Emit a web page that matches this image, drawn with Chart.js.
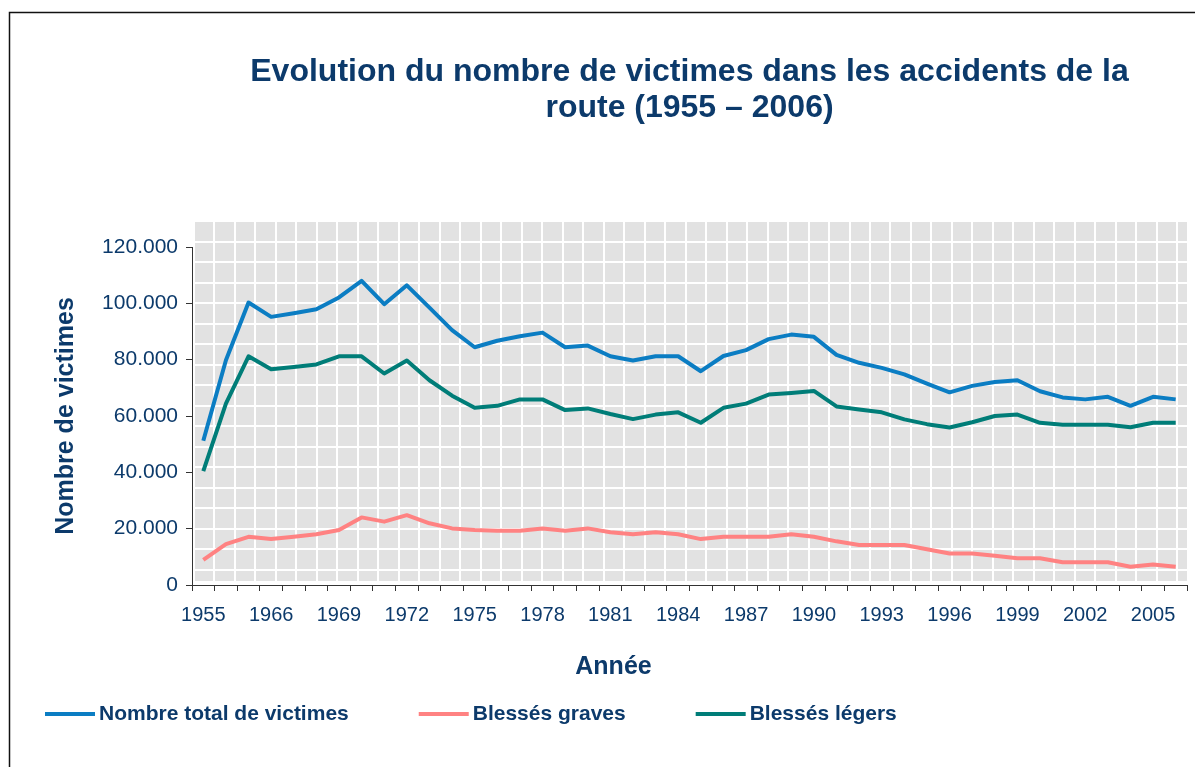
<!DOCTYPE html>
<html>
<head>
<meta charset="utf-8">
<script src="https://cdn.jsdelivr.net/npm/chart.js@4.4.1/dist/chart.umd.min.js"></script>
<style>
  html, body { margin: 0; padding: 0; background: #ffffff; }
  #c { display: block; }
</style>
</head>
<body>
<canvas id="c" width="1195" height="767"></canvas>
<script>
// ---- Data ----
const categories = ['1955','1960','1965','1966','1967','1968','1969','1970','1971','1972',
  '1973','1974','1975','1976','1977','1978','1979','1980','1981','1982',
  '1983','1984','1985','1986','1987','1988','1989','1990','1991','1992',
  '1993','1994','1995','1996','1997','1998','1999','2000','2001','2002',
  '2003','2004','2005','2006'];

const totalVictimes = [51200, 79800, 100300, 95200, 96500, 97900, 102100, 108000, 99700, 106400,
  98500, 90500, 84400, 86700, 88300, 89600, 84400, 85000, 81200, 79700,
  81200, 81200, 75900, 81300, 83400, 87300, 88900, 88100, 81700, 78900,
  77100, 74800, 71500, 68400, 70700, 72100, 72700, 68800, 66600, 65900,
  66800, 63600, 66800, 65900];

const blessesGraves = [8900, 14500, 17100, 16300, 17100, 18000, 19500, 24000, 22500, 24800,
  21900, 20100, 19500, 19300, 19300, 20100, 19300, 20100, 18700, 18000,
  18700, 18000, 16300, 17100, 17100, 17100, 18000, 17100, 15500, 14200,
  14200, 14200, 12700, 11200, 11200, 10400, 9500, 9500, 8100, 8100,
  8100, 6500, 7300, 6500];

const blessesLegers = [40400, 64400, 81200, 76600, 77400, 78300, 81200, 81200, 75100, 79700,
  72700, 67200, 62900, 63600, 65900, 65900, 62100, 62700, 60700, 58900,
  60500, 61300, 57600, 62900, 64400, 67600, 68200, 68900, 63400, 62300,
  61300, 58800, 57100, 55900, 57800, 60000, 60500, 57600, 56900, 56900,
  56900, 56000, 57600, 57600];

const seriesLabels = ['Nombre total de victimes', 'Blessés graves', 'Blessés légers'];
const yTickLabels = {0: '0', 20000: '20.000', 40000: '40.000', 60000: '60.000', 80000: '80.000', 100000: '100.000', 120000: '120.000'};
const titleLines = ['Evolution du nombre de victimes dans les accidents de la', 'route (1955 – 2006)'];
const xTitle = 'Année';
const yTitle = 'Nombre de victimes';

// ---- Styles ----
const NAVY = '#0C3A6B';
const FONT = '"Liberation Sans", Arial, sans-serif';
const AXIS = '#333333';

const backgroundPlugin = {
  id: 'backgroundPattern',
  beforeDraw(chart) {
    const { ctx, chartArea: a } = chart;
    ctx.save();
    ctx.fillStyle = '#ffffff';
    ctx.fillRect(0, 0, chart.width, chart.height);
    // frame
    ctx.strokeStyle = '#111111';
    ctx.lineWidth = 1.5;
    ctx.beginPath();
    ctx.moveTo(9.5, chart.height);
    ctx.lineTo(9.5, 12.5);
    ctx.lineTo(chart.width, 12.5);
    ctx.stroke();
    // plot area pattern
    const top = a.top - 25, bottom = a.bottom - 4, left = a.left + 1, right = a.right;
    ctx.fillStyle = '#E2E2E2';
    ctx.fillRect(left, top, right - left, bottom - top);
    ctx.fillStyle = '#FFFFFF';
    for (let x = a.left + 2; x < right - 1; x += 20.485) {
      ctx.fillRect(Math.round(x) - 1, top, 2, bottom - top);
    }
    for (let y = a.top - 5.5; y < bottom - 1; y += 20.5) {
      ctx.fillRect(left, Math.round(y) - 1, right - left, 2);
    }
    ctx.restore();
  }
};

const legendPlugin = {
  id: 'lineLegend',
  afterDraw(chart) {
    const ctx = chart.ctx;
    ctx.save();
    ctx.font = 'bold 21px ' + FONT;
    ctx.textBaseline = 'middle';
    ctx.textAlign = 'left';
    let x = 45;
    const y = 714;
    chart.data.datasets.forEach(ds => {
      ctx.strokeStyle = ds.borderColor;
      ctx.lineWidth = 4;
      ctx.beginPath();
      ctx.moveTo(x, y);
      ctx.lineTo(x + 50, y);
      ctx.stroke();
      ctx.fillStyle = NAVY;
      ctx.fillText(ds.label, x + 54, y);
      x += 54 + ctx.measureText(ds.label).width + 70;
    });
    ctx.restore();
  }
};

const lineStyle = { borderWidth: 4, pointRadius: 0, pointHoverRadius: 0, tension: 0, fill: false, borderJoinStyle: 'round', borderCapStyle: 'butt' };

new Chart(document.getElementById('c'), {
  type: 'line',
  data: {
    labels: categories,
    datasets: [
      Object.assign({ label: seriesLabels[0], data: totalVictimes, borderColor: '#0B7DC3', backgroundColor: '#0B7DC3' }, lineStyle),
      Object.assign({ label: seriesLabels[1], data: blessesGraves, borderColor: '#FF8282', backgroundColor: '#FF8282' }, lineStyle),
      Object.assign({ label: seriesLabels[2], data: blessesLegers, borderColor: '#007D78', backgroundColor: '#007D78' }, lineStyle)
    ]
  },
  options: {
    responsive: false,
    animation: false,
    events: [],
    layout: { padding: { left: 40, right: 8, top: 0, bottom: 85 } },
    plugins: {
      legend: { display: false },
      tooltip: { enabled: false },
      title: {
        display: true,
        text: titleLines,
        color: NAVY,
        fullSize: false,
        font: { family: FONT, size: 32, weight: 'bold', lineHeight: 1.125 },
        padding: { top: 54, bottom: 121 }
      },
      subtitle: {
        display: true,
        text: xTitle,
        position: 'bottom',
        fullSize: true,
        color: NAVY,
        font: { family: FONT, size: 25, weight: 'bold', lineHeight: 1.2 },
        padding: { top: 17, bottom: 0 }
      }
    },
    scales: {
      x: {
        type: 'category',
        offset: true,
        afterFit(scale) { scale.height = 50; },
        grid: { display: true, offset: true, drawOnChartArea: false, drawTicks: true, tickLength: 6, color: AXIS, lineWidth: 1 },
        border: { display: true, color: AXIS, width: 1 },
        ticks: {
          autoSkip: false,
          maxRotation: 0,
          minRotation: 0,
          padding: 12,
          color: NAVY,
          font: { family: FONT, size: 20 },
          callback: function (value, index) { return index % 3 === 0 ? categories[index] : ''; }
        }
      },
      y: {
        min: 0,
        max: 120000,
        afterFit(scale) { scale.width = 152; },
        grid: { display: true, drawOnChartArea: false, drawTicks: true, tickLength: 6, color: AXIS, lineWidth: 1 },
        border: { display: true, color: AXIS, width: 1 },
        ticks: {
          stepSize: 20000,
          padding: 8,
          color: NAVY,
          font: { family: FONT, size: 21 },
          callback: function (value) { return yTickLabels[value] !== undefined ? yTickLabels[value] : ''; }
        },
        title: {
          display: true,
          text: yTitle,
          color: NAVY,
          font: { family: FONT, size: 25, weight: 'bold', lineHeight: 1.2 },
          padding: { top: 11, bottom: 0 }
        }
      }
    }
  },
  plugins: [backgroundPlugin, legendPlugin]
});
</script>
</body>
</html>
